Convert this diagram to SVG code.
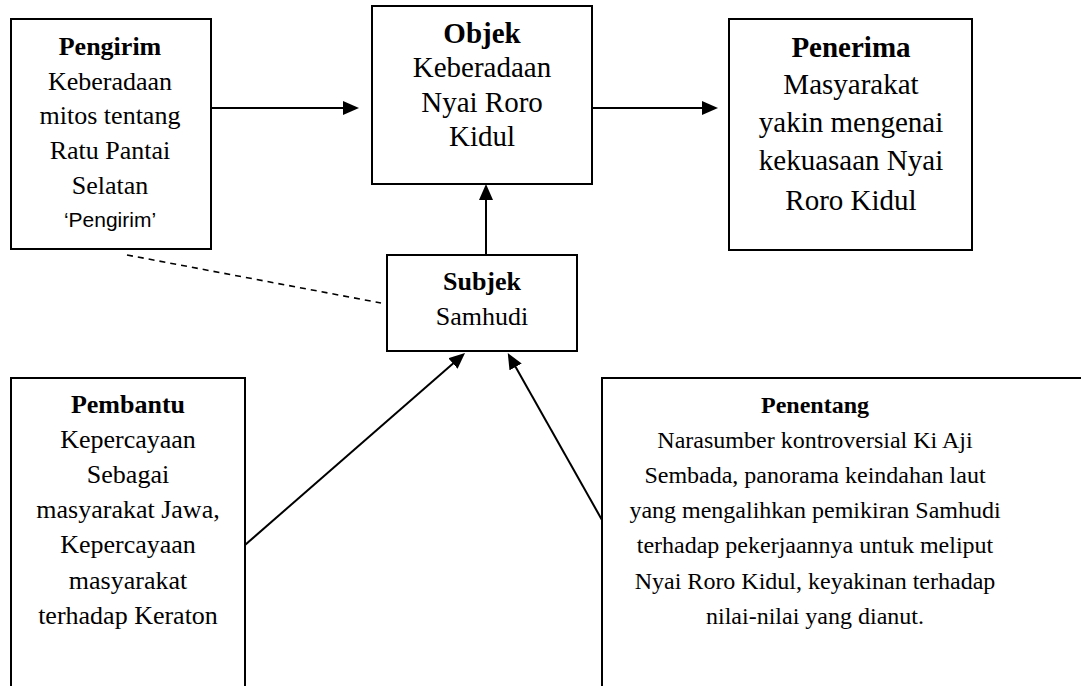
<svg xmlns="http://www.w3.org/2000/svg" width="1081" height="686" viewBox="0 0 1081 686">
  <style>
    .box { fill: #fff; stroke: #000; stroke-width: 2; }
    .t { font-family: "Liberation Serif", "Times New Roman", serif; fill: #000; text-anchor: middle; }
    .b { font-weight: bold; }
    .s { font-family: "Liberation Sans", Arial, sans-serif; fill: #000; text-anchor: middle; }
    .ln { stroke: #000; stroke-width: 2; fill: none; }
    .dash { stroke: #000; stroke-width: 1.6; stroke-dasharray: 6 5; fill: none; }
  </style>
  <defs>
    <marker id="arr" markerUnits="userSpaceOnUse" markerWidth="16" markerHeight="14" refX="10" refY="7" orient="auto">
      <path d="M0,0 L16,7 L0,14 z" fill="#000"/>
    </marker>
  </defs>
  <rect width="1081" height="686" fill="#fff"/>

  <g id="connectors">
    <line class="ln" x1="211" y1="108" x2="353" y2="108" marker-end="url(#arr)"/>
    <line class="ln" x1="592" y1="108" x2="712" y2="108" marker-end="url(#arr)"/>
    <line class="ln" x1="486" y1="255" x2="486" y2="190" marker-end="url(#arr)"/>
    <line class="ln" x1="245" y1="545" x2="460.5" y2="356.9" marker-end="url(#arr)"/>
    <line class="ln" x1="602" y1="520" x2="510.7" y2="358.2" marker-end="url(#arr)"/>
    <line class="dash" x1="127" y1="255" x2="381" y2="303"/>
  </g>

  <g id="pengirim">
    <rect class="box" x="11" y="19" width="200" height="230"/>
    <text class="t b" x="110" y="55" font-size="26">Pengirim</text>
    <text class="t" x="110" y="90" font-size="26">Keberadaan</text>
    <text class="t" x="110" y="124" font-size="26">mitos tentang</text>
    <text class="t" x="110" y="159" font-size="26">Ratu Pantai</text>
    <text class="t" x="110" y="194" font-size="26">Selatan</text>
    <text class="s" x="110" y="227" font-size="21">‘Pengirim’</text>
  </g>

  <g id="objek">
    <rect class="box" x="372" y="6" width="220" height="178"/>
    <text class="t b" x="482" y="43" font-size="29">Objek</text>
    <text class="t" x="482" y="77" font-size="29">Keberadaan</text>
    <text class="t" x="482" y="112" font-size="29">Nyai Roro</text>
    <text class="t" x="482" y="146" font-size="29">Kidul</text>
  </g>

  <g id="penerima">
    <rect class="box" x="729" y="19" width="243" height="231"/>
    <text class="t b" x="851" y="57" font-size="29">Penerima</text>
    <text class="t" x="851" y="94" font-size="29">Masyarakat</text>
    <text class="t" x="851" y="132" font-size="29">yakin mengenai</text>
    <text class="t" x="851" y="170" font-size="29">kekuasaan Nyai</text>
    <text class="t" x="851" y="210" font-size="29">Roro Kidul</text>
  </g>

  <g id="subjek">
    <rect class="box" x="387" y="255" width="190" height="96"/>
    <text class="t b" x="482" y="290" font-size="26">Subjek</text>
    <text class="t" x="482" y="325" font-size="26">Samhudi</text>
  </g>

  <g id="pembantu">
    <path class="ln" d="M11,690 L11,378 L245,378 L245,690"/>
    <text class="t b" x="128" y="413" font-size="26">Pembantu</text>
    <text class="t" x="128" y="448" font-size="26">Kepercayaan</text>
    <text class="t" x="128" y="483" font-size="26">Sebagai</text>
    <text class="t" x="128" y="518" font-size="26">masyarakat Jawa,</text>
    <text class="t" x="128" y="553" font-size="26">Kepercayaan</text>
    <text class="t" x="128" y="589" font-size="26">masyarakat</text>
    <text class="t" x="128" y="624" font-size="26">terhadap Keraton</text>
  </g>

  <g id="penentang">
    <path class="ln" d="M602,690 L602,378 L1085,378"/>
    <text class="t b" x="815" y="413" font-size="24">Penentang</text>
    <text class="t" x="815" y="448" font-size="24">Narasumber kontroversial Ki Aji</text>
    <text class="t" x="815" y="483" font-size="24">Sembada, panorama keindahan laut</text>
    <text class="t" x="815" y="518" font-size="24">yang mengalihkan pemikiran Samhudi</text>
    <text class="t" x="815" y="553" font-size="24">terhadap pekerjaannya untuk meliput</text>
    <text class="t" x="815" y="589" font-size="24">Nyai Roro Kidul, keyakinan terhadap</text>
    <text class="t" x="815" y="624" font-size="24">nilai-nilai yang dianut.</text>
  </g>
</svg>
